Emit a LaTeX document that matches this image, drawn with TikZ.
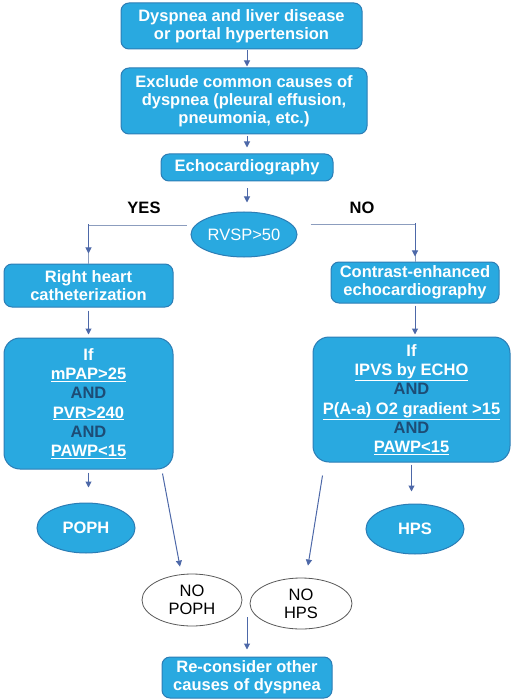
\documentclass[tikz,border=0pt]{standalone}
\usepackage{fontspec}
\setmainfont{Liberation Sans}
\usepackage{xcolor}
\usepackage{tikz}
\usetikzlibrary{arrows.meta, shapes.geometric}

\definecolor{boxfill}{HTML}{29A9E0}
\definecolor{boxedge}{HTML}{2C7DB5}
\definecolor{arrowblue}{HTML}{4D68A8}
\definecolor{branchgray}{HTML}{8C9DBE}
\definecolor{anddark}{HTML}{1D4C75}

\newcommand{\undl}[1]{\underline{#1}}
\newcommand{\andw}{{\color{anddark}AND}}

\tikzset{
    flowbox/.style={draw=boxedge, fill=boxfill, line width=1pt, rounded corners=8pt,
        text=white, font=\bfseries\fontsize{16.5}{18}\selectfont, align=center, inner sep=0pt},
    ifbox/.style={flowbox, rounded corners=16pt, font=\bfseries\fontsize{16.5}{19.2}\selectfont},
    blueell/.style={ellipse, draw=boxedge, fill=boxfill, line width=1pt, text=white,
        inner sep=0pt, font=\fontsize{16.5}{18}\selectfont},
    whiteell/.style={ellipse, draw=black!65, line width=0.8pt, fill=white, align=center,
        inner sep=0pt, font=\fontsize{16.5}{18}\selectfont},
    arr/.style={draw=arrowblue, line width=1pt, -{Triangle[length=6pt,width=6pt]}},
    branch/.style={draw=branchgray, line width=1pt}
}

\begin{document}
\begin{tikzpicture}[x=1pt, y=-1pt]
    \useasboundingbox (0,0) rectangle (517,700);

    % top part
    \node[flowbox, minimum width=241pt, minimum height=46pt] (start) at (241.5,26)
        {Dyspnea and liver disease\\or portal hypertension};
    \node[flowbox, minimum width=246pt, minimum height=66pt] (exclude) at (244,101)
        {Exclude common causes of\\dyspnea (pleural effusion,\\pneumonia, etc.)};
    \node[flowbox, minimum width=172pt, minimum height=27pt] (echo) at (247,167.5)
        {Echocardiography};
    \node[blueell, minimum width=106pt, minimum height=45pt] (rvsp) at (244,234.5) {RVSP>50};
    \node[font=\bfseries\fontsize{16.5}{18}\selectfont] (yes) at (144,208) {YES};
    \node[font=\bfseries\fontsize{16.5}{18}\selectfont] (no) at (362,208) {NO};

    % two branches
    \node[flowbox, minimum width=169pt, minimum height=43pt] (rhc) at (88.5,285.5)
        {Right heart\\catheterization};
    \node[flowbox, minimum width=168pt, minimum height=41pt] (contrast) at (415,282.5)
        {Contrast-enhanced\\echocardiography};
    \node[ifbox, minimum width=169pt, minimum height=131pt] (ifpoph) at (88.5,403.5)
        {If\\\undl{mPAP>25}\\\andw\\\undl{PVR>240}\\\andw\\\undl{PAWP<15}};
    \node[ifbox, minimum width=197pt, minimum height=125pt] (ifhps) at (411.5,399.5)
        {If\\\undl{IPVS by ECHO}\\\andw\\\undl{P(A-a) O2 gradient >15}\\\andw\\\undl{PAWP<15}};

    % outcomes
    \node[blueell, font=\bfseries\fontsize{16.5}{18}\selectfont, minimum width=98pt, minimum height=50pt] (poph) at (86,528) {POPH};
    \node[blueell, font=\bfseries\fontsize{16.5}{18}\selectfont, minimum width=98pt, minimum height=50pt] (hps) at (415,529) {HPS};
    \node[whiteell, minimum width=100pt, minimum height=52pt] (nopoph) at (192,600) {NO\\POPH};
    \node[whiteell, minimum width=102pt, minimum height=51pt] (nohps) at (301,603.5) {NO\\HPS};
    \coordinate (join) at (247,617);
    \node[flowbox, minimum width=170pt, minimum height=41pt] (recon) at (247,677.5)
        {Re-consider other\\causes of dyspnea};

    % connectors
    \draw[arr, shorten <=1pt, shorten >=1pt] (start.south -| echo) -- (exclude.north -| echo);
    \draw[arr, shorten <=2pt, shorten >=6pt] (exclude.south -| echo) -- (echo.north);
    \draw[arr, shorten <=7pt, shorten >=9pt] (echo.south) -- (rvsp.north -| echo);
    \draw[branch] ([xshift=-4pt,yshift=9pt]rvsp.west) -| (rhc.north);
    \draw[arr, shorten >=10pt] (rhc.north |- rvsp.north) ++(0,13) -- (rhc.north);
    \draw[branch] ([xshift=13pt,yshift=10pt]rvsp.east) -| (contrast.north);
    \draw[arr, shorten >=5pt] (contrast.north |- rvsp.north) ++(0,12) -- (contrast.north);
    \draw[arr, shorten <=3pt, shorten >=3pt] (rhc.south) -- (rhc.south |- ifpoph.north);
    \draw[arr, shorten <=2pt, shorten >=2pt] (contrast.south) -- (contrast.south |- ifhps.north);
    \draw[arr, shorten <=3pt, shorten >=15pt] (ifpoph.south) -- (ifpoph.south |- poph.north);
    \draw[arr, shorten <=2pt, shorten >=12pt] (ifhps.south) -- (ifhps.south |- hps.north);
    \draw[arr] ([xshift=-11pt,yshift=-4pt]ifpoph.south east) -- ([xshift=-12pt,yshift=7pt]nopoph.north);
    \draw[arr] ([xshift=10pt,yshift=-13pt]ifhps.south west) -- ([xshift=7pt,yshift=12pt]nohps.north);
    \draw[arr, shorten >=7pt] (join) -- (recon.north);
\end{tikzpicture}
\end{document}
